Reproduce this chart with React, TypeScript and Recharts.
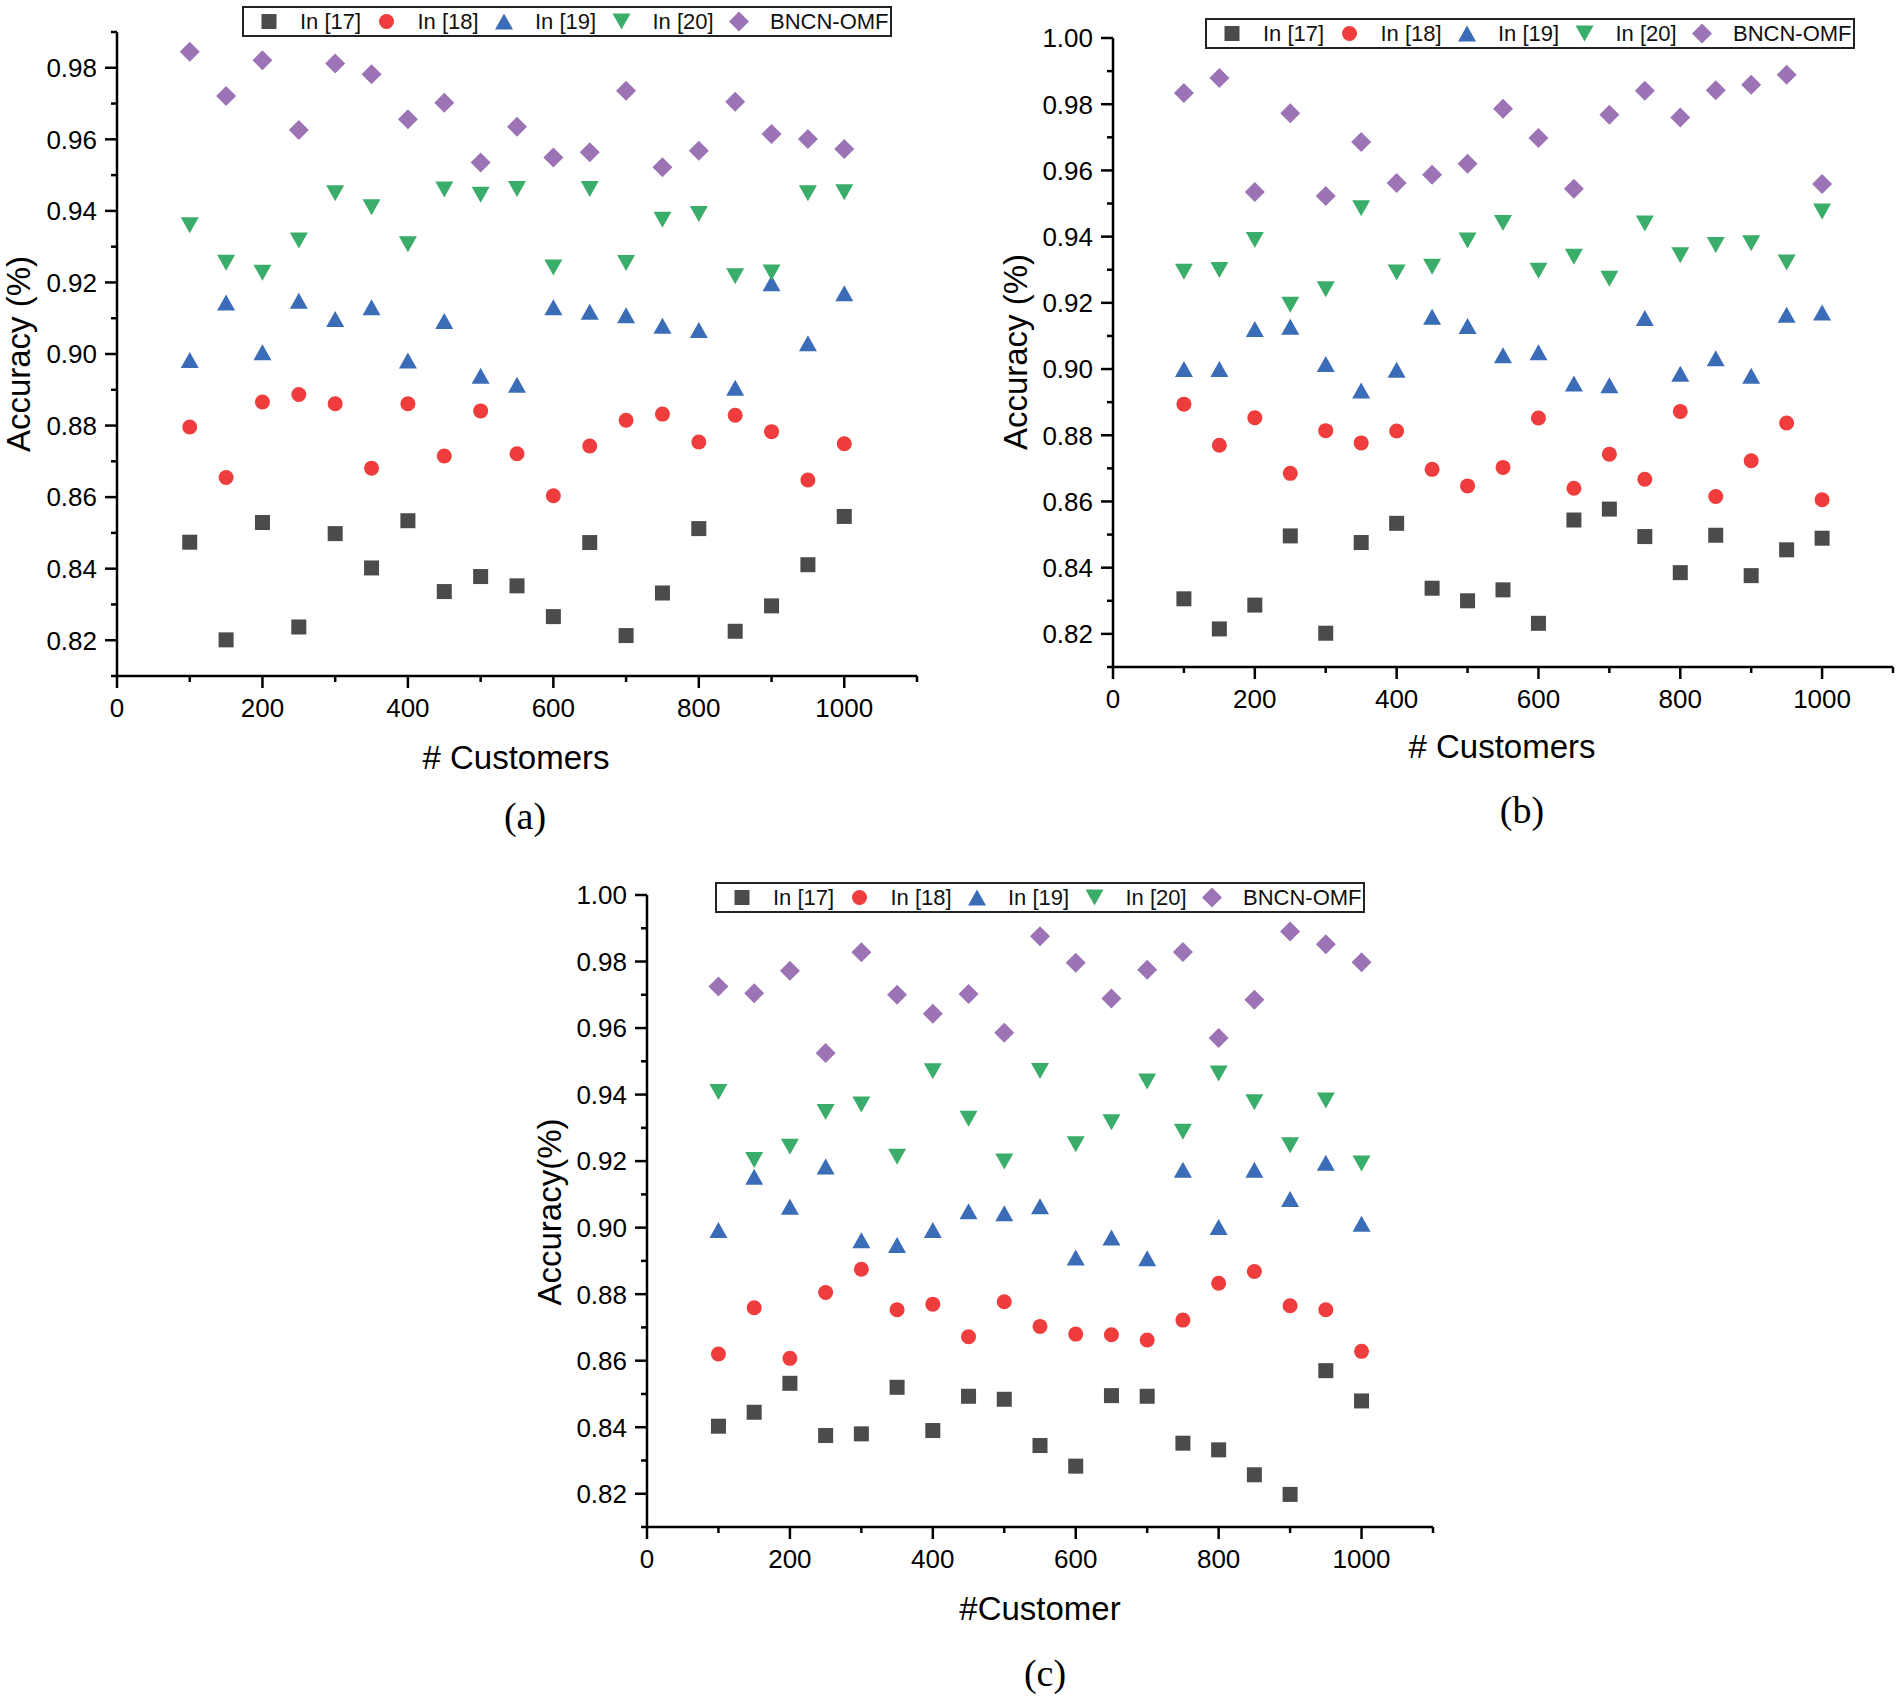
import { Legend, Scatter, ScatterChart, XAxis, YAxis } from "recharts";

const customers = [100, 150, 200, 250, 300, 350, 400, 450, 500, 550, 600, 650, 700, 750, 800, 850, 900, 950, 1000];

// panel (a)
const aIn17 = [0.8474, 0.8201, 0.8529, 0.8237, 0.8498, 0.8402, 0.8534, 0.8336, 0.8378, 0.8352, 0.8266, 0.8473, 0.8213, 0.8332, 0.8512, 0.8225, 0.8296, 0.8411, 0.8546];
const aIn18 = [0.8796, 0.8655, 0.8866, 0.8887, 0.8861, 0.8681, 0.8861, 0.8715, 0.8841, 0.8721, 0.8604, 0.8743, 0.8815, 0.8832, 0.8754, 0.8829, 0.8783, 0.8648, 0.8749];
const aIn19 = [0.8983, 0.9144, 0.9005, 0.9149, 0.9098, 0.9131, 0.8982, 0.9092, 0.8939, 0.8914, 0.9131, 0.9118, 0.9108, 0.9079, 0.9067, 0.8906, 0.9198, 0.903, 0.917];
const aIn20 = [0.936, 0.9255, 0.9227, 0.9317, 0.9449, 0.941, 0.9307, 0.946, 0.9445, 0.9461, 0.9242, 0.9461, 0.9254, 0.9375, 0.9391, 0.9217, 0.9228, 0.9449, 0.9452];
const aBncn = [0.9845, 0.9721, 0.9821, 0.9626, 0.9812, 0.9782, 0.9656, 0.9702, 0.9535, 0.9635, 0.9549, 0.9564, 0.9736, 0.9522, 0.9568, 0.9705, 0.9615, 0.9601, 0.9573];

// panel (b)
const bIn17 = [0.8306, 0.8215, 0.8287, 0.8496, 0.8202, 0.8476, 0.8534, 0.8338, 0.83, 0.8333, 0.8232, 0.8544, 0.8577, 0.8494, 0.8385, 0.8498, 0.8376, 0.8454, 0.8489];
const bIn18 = [0.8894, 0.877, 0.8853, 0.8685, 0.8814, 0.8777, 0.8813, 0.8697, 0.8647, 0.8703, 0.8852, 0.864, 0.8743, 0.8667, 0.8872, 0.8615, 0.8723, 0.8837, 0.8605];
const bIn19 = [0.9, 0.9, 0.9121, 0.9128, 0.9015, 0.8935, 0.8998, 0.9158, 0.913, 0.9042, 0.9051, 0.8956, 0.8951, 0.9154, 0.8986, 0.9033, 0.898, 0.9164, 0.9171];
const bIn20 = [0.9294, 0.9299, 0.939, 0.9194, 0.9241, 0.9486, 0.9292, 0.9309, 0.9388, 0.9441, 0.9297, 0.9339, 0.9273, 0.944, 0.9344, 0.9375, 0.938, 0.9322, 0.9476];
const bBncn = [0.9834, 0.9879, 0.9535, 0.9773, 0.9523, 0.9686, 0.9562, 0.9587, 0.962, 0.9786, 0.9698, 0.9545, 0.9768, 0.9841, 0.976, 0.9842, 0.9859, 0.9889, 0.9559];

// panel (c)
const cIn17 = [0.8403, 0.8445, 0.8532, 0.8375, 0.838, 0.852, 0.839, 0.8493, 0.8484, 0.8345, 0.8283, 0.8495, 0.8493, 0.8352, 0.8332, 0.8257, 0.8198, 0.857, 0.8479];
const cIn18 = [0.862, 0.8759, 0.8607, 0.8805, 0.8875, 0.8753, 0.877, 0.8672, 0.8777, 0.8703, 0.868, 0.8678, 0.8662, 0.8722, 0.8833, 0.8868, 0.8765, 0.8753, 0.8628];
const cIn19 = [0.8993, 0.9153, 0.9063, 0.9184, 0.8962, 0.8948, 0.8993, 0.9049, 0.9043, 0.9064, 0.891, 0.897, 0.8908, 0.9174, 0.9002, 0.9174, 0.9086, 0.9195, 0.9012];
const cIn20 = [0.9408, 0.9203, 0.9243, 0.9348, 0.937, 0.9213, 0.947, 0.9327, 0.9199, 0.9471, 0.9251, 0.9317, 0.9439, 0.9288, 0.9463, 0.9377, 0.9248, 0.9382, 0.9193];
const cBncn = [0.9725, 0.9705, 0.9772, 0.9525, 0.9828, 0.97, 0.9643, 0.9702, 0.9586, 0.9876, 0.9796, 0.9689, 0.9775, 0.9829, 0.957, 0.9685, 0.989, 0.9852, 0.9798];

const seriesNames = ["In [17]", "In [18]", "In [19]", "In [20]", "BNCN-OMF"];
const seriesColors = ["#4b4b4b", "#ef3c3c", "#3b6cb7", "#3aad6a", "#9c74b6"];
const seriesShapes = ["square", "circle", "up", "down", "diamond"];

const xTicks = [0, 100, 200, 300, 400, 500, 600, 700, 800, 900, 1000, 1100];
const yTicksA = [0.81, 0.82, 0.83, 0.84, 0.85, 0.86, 0.87, 0.88, 0.89, 0.9, 0.91, 0.92, 0.93, 0.94, 0.95, 0.96, 0.97, 0.98, 0.99];
const yTicksBC = [0.81, 0.82, 0.83, 0.84, 0.85, 0.86, 0.87, 0.88, 0.89, 0.9, 0.91, 0.92, 0.93, 0.94, 0.95, 0.96, 0.97, 0.98, 0.99, 1.0];

const SANS = "'Liberation Sans', Arial, sans-serif";
const SERIF = "'Liberation Serif', 'Times New Roman', serif";
const TICK = 12;
const MINOR = 6;
const GAP = 8;

function Marker({ kind, cx, cy, color }: { kind: string; cx: number; cy: number; color: string }) {
  if (kind === "square") return <rect x={cx - 7.5} y={cy - 7.5} width={15} height={15} fill={color} />;
  if (kind === "circle") return <circle cx={cx} cy={cy} r={7.5} fill={color} />;
  if (kind === "up")
    return <path d={`M${cx},${cy - 8} L${cx + 9},${cy + 8} L${cx - 9},${cy + 8} Z`} fill={color} />;
  if (kind === "down")
    return <path d={`M${cx - 9},${cy - 8} L${cx + 9},${cy - 8} L${cx},${cy + 8} Z`} fill={color} />;
  return <path d={`M${cx},${cy - 10} L${cx + 10},${cy} L${cx},${cy + 10} L${cx - 10},${cy} Z`} fill={color} />;
}

function YTick({ x, y, payload }: any) {
  const v = payload.value;
  const major = Math.round(v * 100) % 2 === 0;
  const ax = x + TICK + GAP;
  return (
    <g>
      <line x1={ax} x2={ax - (major ? TICK : MINOR)} y1={y} y2={y} stroke="#000" strokeWidth={2.5} />
      {major && (
        <text x={x} y={y} dy="0.36em" textAnchor="end" fontSize={26} fontFamily={SANS} fill="#000">
          {v.toFixed(2)}
        </text>
      )}
    </g>
  );
}

function XTick({ x, y, payload }: any) {
  const v = payload.value;
  const major = v % 200 === 0;
  const ay = y - TICK - GAP;
  return (
    <g>
      <line x1={x} x2={x} y1={ay} y2={ay + (major ? TICK : MINOR)} stroke="#000" strokeWidth={2.5} />
      {major && (
        <text x={x} y={ay + 32} dy="0.36em" textAnchor="middle" fontSize={26} fontFamily={SANS} fill="#000">
          {v}
        </text>
      )}
    </g>
  );
}

function LegendBox() {
  return (
    <svg width={650} height={31} style={{ display: "block" }}>
      <rect x={1} y={1} width={648} height={29} fill="#fff" stroke="#222" strokeWidth={2} />
      {seriesNames.map((name, i) => {
        const mx = 27 + i * 117.5;
        return (
          <g key={name}>
            <Marker kind={seriesShapes[i]} cx={mx} cy={15.5} color={seriesColors[i]} />
            <text x={mx + 31} y={15.5} dy="0.36em" fontSize={22} fontFamily={SANS} fill="#111">
              {name}
            </text>
          </g>
        );
      })}
    </svg>
  );
}

function Panel({ left, top, width, height, margin, yWidth, xHeight, yDomain, yTicks, values, legendLeft, legendTop }: any) {
  return (
    <div style={{ position: "absolute", left, top }}>
      <ScatterChart width={width} height={height} margin={margin}>
        <XAxis
          type="number"
          dataKey="x"
          domain={[0, 1100]}
          ticks={xTicks}
          interval={0}
          height={xHeight}
          tickSize={TICK}
          tickMargin={GAP}
          tickLine={false}
          axisLine={{ stroke: "#000", strokeWidth: 2.5 }}
          tick={<XTick />}
        />
        <YAxis
          type="number"
          dataKey="y"
          domain={yDomain}
          ticks={yTicks}
          interval={0}
          width={yWidth}
          tickSize={TICK}
          tickMargin={GAP}
          tickLine={false}
          axisLine={{ stroke: "#000", strokeWidth: 2.5 }}
          tick={<YTick />}
        />
        <Legend
          layout="vertical"
          align="center"
          verticalAlign="middle"
          content={() => <LegendBox />}
          wrapperStyle={{ left: legendLeft, top: legendTop, width: 650 }}
        />
        {values.map((ys: number[], i: number) => (
          <Scatter
            key={seriesNames[i]}
            name={seriesNames[i]}
            data={customers.map((c, j) => ({ x: c, y: ys[j] }))}
            isAnimationActive={false}
            shape={(p: any) => <Marker kind={seriesShapes[i]} cx={p.cx} cy={p.cy} color={seriesColors[i]} />}
          />
        ))}
      </ScatterChart>
    </div>
  );
}

export default function App() {
  return (
    <div style={{ position: "absolute", left: 0, top: 0, width: 1900, height: 1699, background: "#fff" }}>
      <Panel
        left={0}
        top={0}
        width={930}
        height={800}
        margin={{ top: 32, right: 13, bottom: 0, left: 0 }}
        yWidth={117}
        xHeight={124}
        yDomain={[0.81, 0.99]}
        yTicks={yTicksA}
        values={[aIn17, aIn18, aIn19, aIn20, aBncn]}
        legendLeft={242}
        legendTop={6}
      />
      <Panel
        left={990}
        top={0}
        width={910}
        height={790}
        margin={{ top: 38, right: 7, bottom: 0, left: 0 }}
        yWidth={123}
        xHeight={123}
        yDomain={[0.81, 1.0]}
        yTicks={yTicksBC}
        values={[bIn17, bIn18, bIn19, bIn20, bBncn]}
        legendLeft={215}
        legendTop={18}
      />
      <Panel
        left={520}
        top={860}
        width={930}
        height={780}
        margin={{ top: 35, right: 17, bottom: 0, left: 0 }}
        yWidth={127}
        xHeight={113}
        yDomain={[0.81, 1.0]}
        yTicks={yTicksBC}
        values={[cIn17, cIn18, cIn19, cIn20, cBncn]}
        legendLeft={195}
        legendTop={22}
      />
      <svg width={1900} height={1699} style={{ position: "absolute", left: 0, top: 0, pointerEvents: "none" }}>
        <g fontFamily={SANS} fontSize={33} fill="#000" textAnchor="middle">
          <text x={516} y={769}># Customers</text>
          <text x={1502} y={758}># Customers</text>
          <text x={1040} y={1620}>#Customer</text>
          <text transform="translate(30,354) rotate(-90)">Accuracy (%)</text>
          <text transform="translate(1027,352) rotate(-90)">Accuracy (%)</text>
          <text transform="translate(561,1212) rotate(-90)">Accuracy(%)</text>
        </g>
        <g fontFamily={SERIF} fontSize={38} fill="#000" textAnchor="middle">
          <text x={525} y={829}>(a)</text>
          <text x={1522} y={823}>(b)</text>
          <text x={1045} y={1686}>(c)</text>
        </g>
      </svg>
    </div>
  );
}
